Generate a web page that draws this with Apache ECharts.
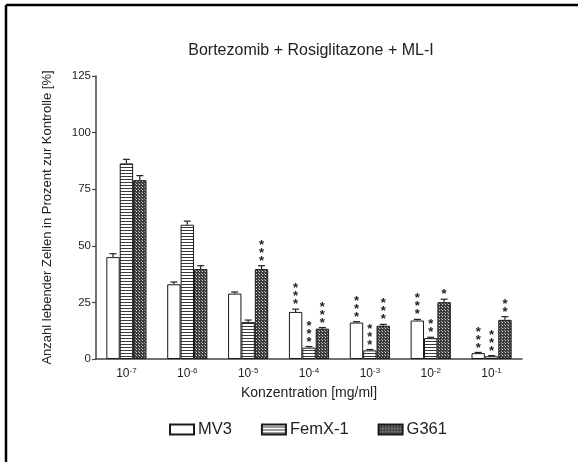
<!DOCTYPE html>
<html>
<head>
<meta charset="utf-8">
<script src="https://cdn.jsdelivr.net/npm/echarts@6/dist/echarts.min.js"></script>
<style>
  html, body { margin: 0; padding: 0; background: #fff; }
  #chart { width: 578px; height: 462px; }
</style>
</head>
<body>
<div id="chart"></div>
<script>
// Concentration exponents (10^x mg/ml)
const exponents = ['-7', '-6', '-5', '-4', '-3', '-2', '-1'];

// Viable cells in percent of control
const mv3   = [45.0, 33.0, 28.9, 20.8, 16.1, 17.0, 2.6];
const femx  = [86.4, 59.3, 16.3, 5.0, 3.8, 9.2, 1.2];
const g361  = [79.0, 39.7, 39.7, 13.4, 14.7, 25.1, 17.3];

// Standard error (upper half drawn)
const mv3Err  = [1.5, 1.0, 0.7, 1.2, 0.4, 0.5, 0.3];
const femxErr = [1.8, 1.6, 0.9, 0.5, 0.4, 0.4, 0.3];
const g361Err = [2.0, 1.5, 1.5, 0.5, 0.6, 1.3, 1.4];

// Significance level as number of asterisks
const mv3Sig  = [0, 0, 0, 3, 3, 3, 3];
const femxSig = [0, 0, 0, 3, 3, 2, 3];
const g361Sig = [0, 0, 3, 3, 3, 1, 2];

const seriesNames = ['MV3', 'FemX-1', 'G361'];
const yTicks = [0, 25, 50, 75, 100, 125];

const FONT = 'Arial, "Liberation Sans", sans-serif';

// Fill patterns
function stripePattern() {
  const c = document.createElement('canvas');
  c.width = 4; c.height = 3;
  const ctx = c.getContext('2d');
  ctx.fillStyle = '#ffffff';
  ctx.fillRect(0, 0, 4, 3);
  ctx.fillStyle = '#3a3a3a';
  ctx.fillRect(0, 2, 4, 1);
  return { image: c, repeat: 'repeat' };
}
function dotPattern() {
  const c = document.createElement('canvas');
  c.width = 3; c.height = 3;
  const ctx = c.getContext('2d');
  ctx.fillStyle = '#3c3c3c';
  ctx.fillRect(0, 0, 3, 3);
  ctx.fillStyle = '#d8d8d8';
  ctx.fillRect(1, 1, 1, 1);
  ctx.fillStyle = '#9a9a9a';
  ctx.fillRect(0, 0, 1, 1);
  return { image: c, repeat: 'repeat' };
}

const fills = ['#ffffff', stripePattern(), dotPattern()];
const values = [mv3, femx, g361];
const errs = [mv3Err, femxErr, g361Err];
const sigs = [mv3Sig, femxSig, g361Sig];

const GAP = 0.34; // barCategoryGap fraction

function errorSeries(k) {
  const data = values[k].map((v, i) => [i, v, errs[k][i], sigs[k][i]]);
  return {
    type: 'custom',
    name: seriesNames[k] + ' err',
    data: data,
    z: 5,
    silent: true,
    renderItem: function (params, api) {
      const idx = api.value(0);
      const val = api.value(1);
      const err = api.value(2);
      const nStar = api.value(3);
      const band = api.size([1, 0])[0];
      const group = band * (1 - GAP);
      const bw = group / 3;
      const base = api.coord([idx, val]);
      const x = base[0] - group / 2 + bw * (k + 0.5);
      const yTop = api.coord([idx, val + err])[1];
      const cap = 3.5;
      const children = [
        { type: 'line', shape: { x1: x, y1: base[1], x2: x, y2: yTop },
          style: { stroke: '#222', lineWidth: 1.2 } },
        { type: 'line', shape: { x1: x - cap, y1: yTop, x2: x + cap, y2: yTop },
          style: { stroke: '#222', lineWidth: 1.2 } }
      ];
      for (let s = 0; s < nStar; s++) {
        children.push({
          type: 'text',
          style: {
            text: '*', x: x, y: yTop + 2 - s * 8,
            fill: '#222', font: 'bold 13px ' + FONT,
            align: 'center', verticalAlign: 'bottom'
          }
        });
      }
      return { type: 'group', children: children };
    }
  };
}

const barSeries = seriesNames.map((name, k) => ({
  type: 'bar',
  name: name,
  data: values[k],
  barGap: '0%',
  barCategoryGap: (GAP * 100) + '%',
  itemStyle: { color: fills[k], borderColor: '#1a1a1a', borderWidth: 1 },
  emphasis: { disabled: true },
  z: 2
}));

const chart = echarts.init(document.getElementById('chart'), null, { renderer: 'canvas' });
chart.setOption({
  animation: false,
  backgroundColor: '#ffffff',
  title: {
    text: 'Bortezomib + Rosiglitazone + ML-I',
    left: 306, top: 38, textAlign: 'center',
    textStyle: { fontFamily: FONT, fontSize: 16, fontWeight: 'normal', color: '#222' }
  },
  legend: {
    data: seriesNames,
    left: 169, top: 421, padding: 0,
    itemWidth: 24, itemHeight: 10, itemGap: 29,
    icon: 'rect',
    textStyle: { fontFamily: FONT, fontSize: 16.5, color: '#222', padding: [0, 0, 0, -1] },
    selectedMode: false
  },
  grid: { left: 96, right: 56, top: 76, bottom: 103, containLabel: false },
  xAxis: {
    type: 'category',
    data: exponents,
    name: 'Konzentration [mg/ml]',
    nameLocation: 'middle',
    nameGap: 27,
    nameTextStyle: { fontFamily: FONT, fontSize: 14, color: '#222' },
    axisLine: { lineStyle: { color: '#444', width: 1.5 } },
    axisTick: { show: false },
    axisLabel: {
      interval: 0,
      margin: 8,
      formatter: function (v) { return '{b|10}{s|' + v + '}'; },
      rich: {
        b: { fontFamily: FONT, fontSize: 12, color: '#222' },
        s: { fontFamily: FONT, fontSize: 8, color: '#222', verticalAlign: 'top', padding: [0, 0, 6, 0] }
      }
    }
  },
  yAxis: {
    type: 'value',
    min: yTicks[0], max: yTicks[yTicks.length - 1], interval: 25,
    name: 'Anzahl lebender Zellen in Prozent zur Kontrolle [%]',
    nameLocation: 'middle',
    nameGap: 42,
    nameTextStyle: { fontFamily: FONT, fontSize: 13, color: '#222' },
    axisLine: { show: true, lineStyle: { color: '#444', width: 1.5 } },
    axisTick: { show: true, length: 4, lineStyle: { color: '#444', width: 1.2 } },
    axisLabel: { margin: 5, fontFamily: FONT, fontSize: 11.5, color: '#222' },
    splitLine: { show: false }
  },
  graphic: [
    { type: 'line', shape: { x1: 6, y1: 5, x2: 578, y2: 5 }, style: { stroke: '#000', lineWidth: 2.5 } },
    { type: 'line', shape: { x1: 6, y1: 5, x2: 6, y2: 462 }, style: { stroke: '#000', lineWidth: 2.5 } }
  ],
  series: barSeries.concat([errorSeries(0), errorSeries(1), errorSeries(2)])
});
</script>
</body>
</html>
